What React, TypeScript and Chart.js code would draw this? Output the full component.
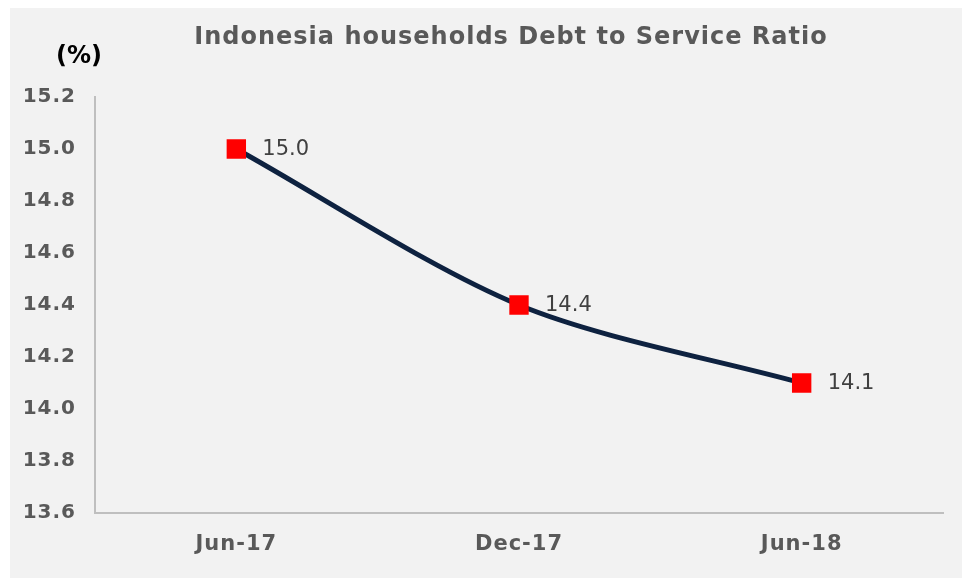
import React, { useEffect, useRef } from "react";
import { Chart, registerables } from "chart.js";

Chart.register(...registerables);

const categories = ["Jun-17", "Dec-17", "Jun-18"];
const dsrValues = [15.0, 14.4, 14.1];
const yMin = 13.6;
const yMax = 15.2;
const yStep = 0.2;
const titleText = "Indonesia households Debt to Service Ratio";
const unitText = "(%)";

const FONT = "'DejaVu Sans', Verdana, sans-serif";

const spacingPlugin = {
  id: "spacing",
  beforeUpdate(chart: any) {
    chart.ctx.letterSpacing = "1px";
  },
  beforeDraw(chart: any) {
    chart.ctx.letterSpacing = "1px";
  },
};

const overlayPlugin = {
  id: "overlay",
  afterDatasetsDraw(chart: any) {
    const ctx = chart.ctx;
    const meta = chart.getDatasetMeta(0);
    ctx.save();
    ctx.letterSpacing = "0px";
    ctx.font = `normal 21px ${FONT}`;
    ctx.fillStyle = "#404040";
    ctx.textAlign = "left";
    ctx.textBaseline = "middle";
    meta.data.forEach((pt: any, i: number) => {
      ctx.fillText(dsrValues[i].toFixed(1), pt.x + 26, pt.y + 1);
    });
    ctx.font = `bold 24px ${FONT}`;
    ctx.fillStyle = "#000000";
    ctx.textAlign = "center";
    ctx.fillText(unitText, 69, 49);
    ctx.letterSpacing = "1px";
    ctx.font = `bold 24px ${FONT}`;
    ctx.fillStyle = "#595959";
    ctx.fillText(titleText, 501, 30);
    ctx.restore();
  },
};

export default function App() {
  const ref = useRef<HTMLCanvasElement>(null);
  useEffect(() => {
    if (!ref.current) return;
    const chart = new Chart(ref.current, {
      type: "line",
      data: {
        labels: categories,
        datasets: [
          {
            data: dsrValues,
            borderColor: "#0e2240",
            borderWidth: 5,
            tension: 0.3,
            pointStyle: "rect",
            pointRadius: 13.7,
            pointHoverRadius: 13.7,
            pointBackgroundColor: "#ff0000",
            pointBorderColor: "#ff0000",
            pointBorderWidth: 0,
            fill: false,
          },
        ],
      },
      options: {
        animation: false,
        responsive: false,
        maintainAspectRatio: false,
        layout: { padding: { left: 0, right: 19, top: 89, bottom: 0 } },
        plugins: {
          legend: { display: false },
          tooltip: { enabled: false },
          title: { display: false },
        },
        scales: {
          x: {
            offset: true,
            grid: { display: false, drawTicks: false },
            border: { display: true, color: "#bfbfbf", width: 2 },
            ticks: {
              color: "#595959",
              font: { family: FONT, size: 21, weight: "bold" },
              padding: 19,
              maxRotation: 0,
            },
            afterFit(scale: any) {
              scale.height = 65;
            },
          },
          y: {
            min: yMin,
            max: yMax,
            grid: { display: false, drawTicks: false },
            border: { display: true, color: "#bfbfbf", width: 2 },
            ticks: {
              stepSize: yStep,
              color: "#595959",
              font: { family: FONT, size: 20, weight: "bold" },
              padding: 19,
              callback: (v: any) => Number(v).toFixed(1),
            },
            afterFit(scale: any) {
              scale.width = 85;
            },
          },
        },
      },
      plugins: [spacingPlugin, overlayPlugin],
    });
    return () => chart.destroy();
  }, []);
  return (
    <div
      style={{
        position: "fixed",
        left: 10,
        top: 8,
        width: 952,
        height: 570,
        background: "#f2f2f2",
      }}
    >
      <canvas ref={ref} width={952} height={570} style={{ display: "block" }} />
    </div>
  );
}
